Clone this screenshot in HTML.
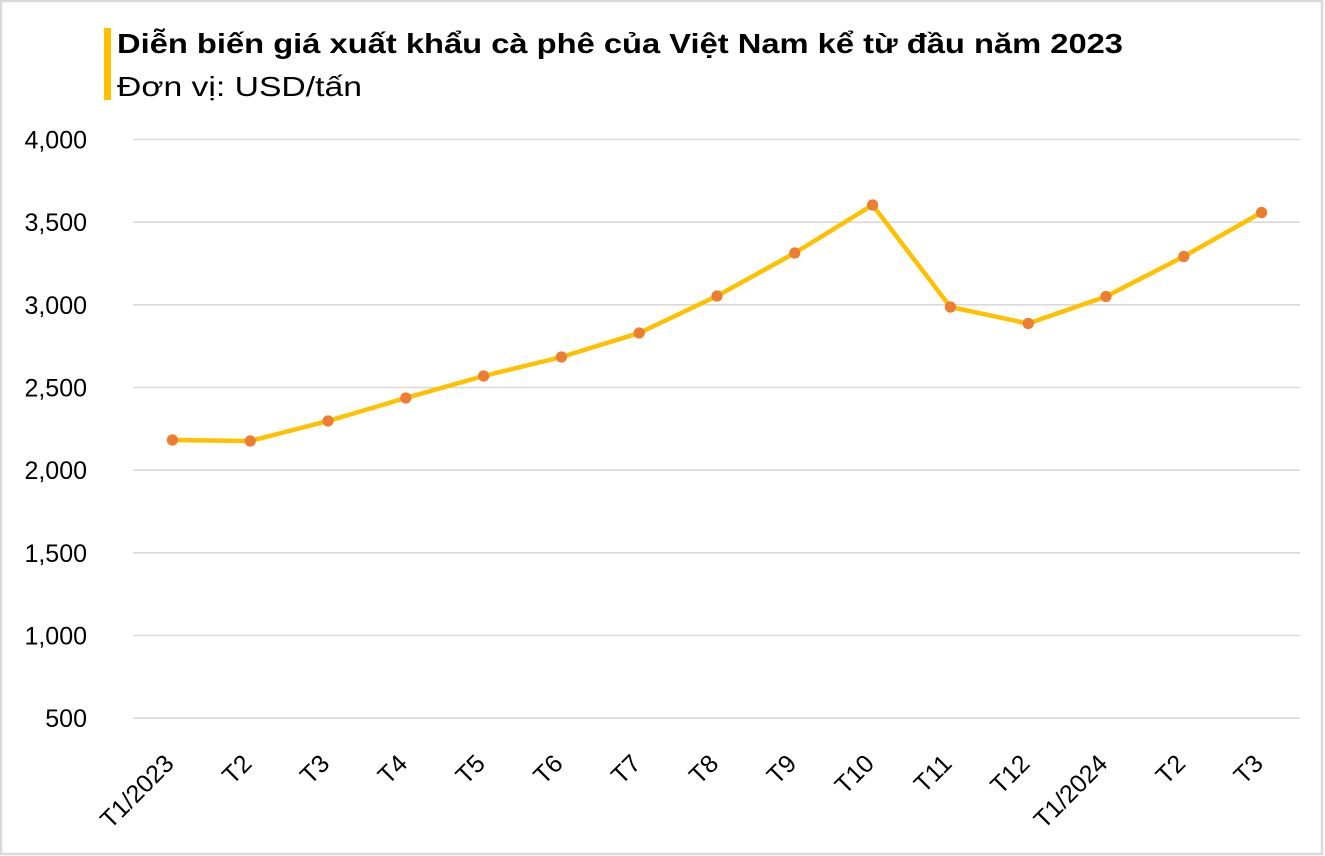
<!DOCTYPE html>
<html>
<head>
<meta charset="utf-8">
<style>
  html, body { margin:0; padding:0; background:#fff; }
  body { width:1325px; height:856px; overflow:hidden; }
  svg { display:block; }
  text { font-family: "Liberation Sans", "Noto Sans CJK SC", sans-serif; fill:#000; }
</style>
</head>
<body>
<svg width="1325" height="856" viewBox="0 0 1325 856" xmlns="http://www.w3.org/2000/svg">
  <rect x="0" y="0" width="1325" height="856" fill="#ffffff"/>
  <!-- outer border -->
  <rect x="1" y="1" width="1321" height="853" fill="none" stroke="#d9d9d9" stroke-width="2.5"/>

  <!-- title -->
  <rect x="104" y="28" width="7" height="72" fill="#FFC000"/>
  <text x="117" y="53" font-size="28" font-weight="bold" textLength="1006" lengthAdjust="spacingAndGlyphs">Diễn biến giá xuất khẩu cà phê của Việt Nam kể từ đầu năm 2023</text>
  <text x="117" y="96" font-size="28" textLength="245" lengthAdjust="spacingAndGlyphs">Đơn vị: USD/tấn</text>

  <!-- gridlines -->
  <g stroke="#d9d9d9" stroke-width="1.6">
    <line x1="133" y1="139.5" x2="1300" y2="139.5"/>
    <line x1="133" y1="222.2" x2="1300" y2="222.2"/>
    <line x1="133" y1="304.8" x2="1300" y2="304.8"/>
    <line x1="133" y1="387.5" x2="1300" y2="387.5"/>
    <line x1="133" y1="470.2" x2="1300" y2="470.2"/>
    <line x1="133" y1="552.8" x2="1300" y2="552.8"/>
    <line x1="133" y1="635.5" x2="1300" y2="635.5"/>
    <line x1="133" y1="718.2" x2="1300" y2="718.2"/>
  </g>

  <!-- y labels -->
  <g font-size="25" text-anchor="end">
    <text x="87" y="148.5">4,000</text>
    <text x="87" y="231.2">3,500</text>
    <text x="87" y="313.8">3,000</text>
    <text x="87" y="396.5">2,500</text>
    <text x="87" y="479.2">2,000</text>
    <text x="87" y="561.8">1,500</text>
    <text x="87" y="644.5">1,000</text>
    <text x="87" y="727.2">500</text>
  </g>

  <!-- x labels -->
  <g font-size="25" text-anchor="end">
    <text transform="translate(175.4,765) rotate(-45)">T1/2023</text>
    <text transform="translate(253.2,765) rotate(-45)">T2</text>
    <text transform="translate(331,765) rotate(-45)">T3</text>
    <text transform="translate(408.8,765) rotate(-45)">T4</text>
    <text transform="translate(486.6,765) rotate(-45)">T5</text>
    <text transform="translate(564.4,765) rotate(-45)">T6</text>
    <text transform="translate(642.2,765) rotate(-45)">T7</text>
    <text transform="translate(720,765) rotate(-45)">T8</text>
    <text transform="translate(797.8,765) rotate(-45)">T9</text>
    <text transform="translate(875.6,765) rotate(-45)">T10</text>
    <text transform="translate(953.4,765) rotate(-45)">T11</text>
    <text transform="translate(1031.2,765) rotate(-45)">T12</text>
    <text transform="translate(1109,765) rotate(-45)">T1/2024</text>
    <text transform="translate(1186.8,765) rotate(-45)">T2</text>
    <text transform="translate(1264.6,765) rotate(-45)">T3</text>
  </g>

  <!-- series line -->
  <polyline fill="none" stroke="#FFC000" stroke-width="4.5" stroke-linejoin="round" stroke-linecap="round"
    points="172.4,440 250.2,441 328,421 405.8,398 483.6,376 561.4,357 639.2,333 717,296 794.8,253 872.6,205 950.4,307 1028.2,323.5 1106,296.5 1183.8,256.5 1261.6,212.5"/>

  <!-- markers -->
  <g fill="#ED7D31">
    <circle cx="172.4" cy="440" r="5.6"/>
    <circle cx="250.2" cy="441" r="5.6"/>
    <circle cx="328" cy="421" r="5.6"/>
    <circle cx="405.8" cy="398" r="5.6"/>
    <circle cx="483.6" cy="376" r="5.6"/>
    <circle cx="561.4" cy="357" r="5.6"/>
    <circle cx="639.2" cy="333" r="5.6"/>
    <circle cx="717" cy="296" r="5.6"/>
    <circle cx="794.8" cy="253" r="5.6"/>
    <circle cx="872.6" cy="205" r="5.6"/>
    <circle cx="950.4" cy="307" r="5.6"/>
    <circle cx="1028.2" cy="323.5" r="5.6"/>
    <circle cx="1106" cy="296.5" r="5.6"/>
    <circle cx="1183.8" cy="256.5" r="5.6"/>
    <circle cx="1261.6" cy="212.5" r="5.6"/>
  </g>
</svg>
</body>
</html>
